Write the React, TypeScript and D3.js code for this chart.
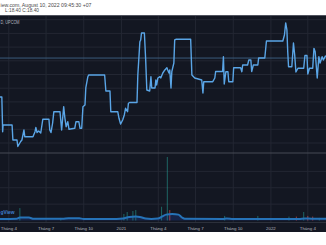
import React from "react";
import * as d3 from "d3";

const W = 326;
const H = 245;

const priceDates = [
  "2020-03-10","2020-03-15","2020-03-17","2020-03-18","2020-04-09","2020-04-11","2020-04-21","2020-04-23","2020-04-30","2020-05-03",
  "2020-05-08","2020-05-10","2020-05-30","2020-06-04","2020-06-06","2020-06-09","2020-06-13","2020-06-18","2020-06-23","2020-07-08",
  "2020-07-10","2020-07-13","2020-07-17","2020-07-20","2020-08-04","2020-08-08","2020-08-13","2020-08-16","2020-08-19","2020-08-23",
  "2020-08-26","2020-09-09","2020-09-12","2020-09-19","2020-09-22","2020-09-26","2020-09-29","2020-10-04","2020-10-06","2020-10-11",
  "2020-10-13","2020-11-21","2020-11-24","2020-12-04","2020-12-06","2020-12-23","2020-12-26","2020-12-30","2021-01-04","2021-01-08",
  "2021-01-11","2021-01-16","2021-01-18","2021-01-21","2021-02-08","2021-02-10","2021-02-15","2021-02-17","2021-02-19","2021-02-26",
  "2021-03-01","2021-03-04","2021-03-11","2021-03-14","2021-03-16","2021-03-24","2021-03-26","2021-03-28","2021-03-31","2021-04-05",
  "2021-04-07","2021-04-12","2021-04-17","2021-04-22","2021-04-24","2021-04-27","2021-04-29","2021-05-02","2021-05-04","2021-05-09",
  "2021-05-11","2021-05-14","2021-06-19","2021-06-22","2021-06-29","2021-07-16","2021-07-19","2021-07-21","2021-08-12","2021-08-17",
  "2021-08-19","2021-09-05","2021-09-07","2021-09-09","2021-09-13","2021-09-18","2021-09-20","2021-09-30","2021-10-02","2021-10-19",
  "2021-10-22","2021-10-24","2021-11-05","2021-11-08","2021-11-13","2021-11-15","2021-11-19","2021-11-30","2021-12-02","2021-12-17",
  "2021-12-21","2022-01-30","2022-02-03","2022-02-06","2022-02-09","2022-02-11","2022-02-13","2022-02-21","2022-02-25","2022-02-28",
  "2022-03-03","2022-03-08","2022-03-22","2022-03-25","2022-03-30","2022-04-01","2022-04-05","2022-04-13","2022-04-16","2022-04-19",
  "2022-04-24","2022-04-28","2022-05-01","2022-05-06","2022-05-09","2022-05-14","2022-05-19"
];
const priceValues = [
  12.72,12.72,7.65,8.63,8.63,6.44,6.44,5.49,6.22,6.44,
  7.90,6.92,6.92,7.65,8.26,7.53,7.75,7.46,9.46,9.46,
  7.90,7.53,8.92,10.57,10.57,7.90,11.30,9.61,8.38,9.11,
  8.00,8.15,9.11,9.11,8.15,8.15,11.30,11.55,14.03,15.68,
  15.93,15.93,13.59,13.59,10.57,10.57,9.61,8.77,9.36,10.09,
  11.07,10.57,11.80,11.91,11.91,15.93,20.79,21.04,22.06,22.06,
  18.41,13.74,13.59,15.68,14.03,14.03,15.20,14.47,15.49,15.68,
  15.49,16.22,16.66,16.99,16.66,16.22,16.66,14.03,16.41,17.68,
  21.04,21.14,21.14,15.93,15.49,15.20,13.30,14.95,14.95,15.49,
  16.44,16.44,18.60,14.61,16.41,16.41,14.95,14.95,16.99,16.99,
  16.41,17.39,17.39,18.12,18.12,16.44,17.39,17.39,18.41,18.41,
  20.89,20.89,21.77,23.52,22.50,19.33,17.14,17.14,20.60,18.85,
  16.36,16.91,16.91,18.77,18.77,16.07,16.91,16.91,19.82,19.33,
  15.49,18.60,17.68,18.60,18.12,18.70,18.55
];

const volumeDates = [
  "2020-04-28","2020-08-06","2021-01-07","2021-01-15","2021-01-29","2021-02-05","2021-04-09","2021-04-23","2021-04-29",
  "2021-09-10","2021-11-30","2022-02-14","2022-03-04","2022-03-22","2022-04-01","2022-04-13","2022-04-29"
];
const volumeValues = [19, 4, 10, 13, 14.5, 16, 21, 97, 16, 7, 7, 6, 6, 13, 7, 6, 4];
const volumeUp = [true, true, true, true, true, true, true, true, false, true, true, true, false, true, false, false, true];

const maDates = [
  "2020-03-01","2020-04-20","2020-04-28","2020-05-20","2020-06-01","2020-08-10","2020-08-25","2020-09-20","2020-10-01",
  "2020-12-20","2021-01-05","2021-01-20","2021-02-05","2021-02-15","2021-03-01","2021-03-15","2021-03-31","2021-04-10",
  "2021-04-20","2021-05-05","2021-05-20","2021-05-28","2021-06-05","2021-09-05","2021-09-15","2021-10-01","2022-03-10",
  "2022-03-25","2022-04-10","2022-05-25"
];
const maValues = [
  2.3, 2.5, 4.5, 4.5, 2.5, 2.5, 3.5, 3.5, 2.3,
  2.3, 3.0, 5.5, 6.0, 5.5, 3.0, 2.3, 3.0, 6.0,
  9.0, 10.0, 9.0, 5.0, 2.5, 2.3, 3.0, 2.3, 2.3,
  3.0, 2.8, 2.8
];

const tickDates = [
  "2020-04-01","2020-07-01","2020-10-01","2021-01-01","2021-04-01","2021-07-01","2021-10-01","2022-01-01","2022-04-01"
];
const tickLabels = ["Tháng 4","Tháng 7","Tháng 10","2021","Tháng 4","Tháng 7","Tháng 10","2022","Tháng 4"];

const lastClose = 18.4;
const headerLine1 = "iew.com, August 10, 2022 09:45:30 +07";
const headerLine2 = "L:18.40 C:18.40";
const symbolLabel = "D, UPCOM";
const watermark = "gView";

const FONT = "'Liberation Sans', Arial, sans-serif";

export default function App() {
  const parse = d3.utcParse("%Y-%m-%d");
  const x = d3
    .scaleUtc()
    .domain([parse("2020-04-01") as Date, parse("2022-04-01") as Date])
    .range([8.8, 307.8]);
  const y = d3.scaleLinear().domain([6, 24]).range([143, 19.7]);
  const yv = d3.scaleLinear().domain([0, 100]).range([220.5, 155]);

  const price = priceDates.map((d, i) => ({ t: parse(d) as Date, v: priceValues[i] }));
  const ma = maDates.map((d, i) => ({ t: parse(d) as Date, v: maValues[i] }));
  const vols = volumeDates.map((d, i) => ({ t: parse(d) as Date, v: volumeValues[i], up: volumeUp[i] }));
  const ticks = tickDates.map((d) => parse(d) as Date);

  const priceLine = d3
    .line<{ t: Date; v: number }>()
    .x((d) => x(d.t))
    .y((d) => y(d.v));
  const maLine = d3
    .line<{ t: Date; v: number }>()
    .x((d) => x(d.t))
    .y((d) => yv(d.v))
    .curve(d3.curveMonotoneX);
  const maArea = d3
    .area<{ t: Date; v: number }>()
    .x((d) => x(d.t))
    .y0(yv(0))
    .y1((d) => yv(d.v))
    .curve(d3.curveMonotoneX);

  const priceGrid = y.ticks(9);
  const volGrid = [25, 50, 75];

  const top = 15;
  const paneSep = 153;
  const axisTop = 222.5;
  const darkBottom = 232;

  return (
    <svg
      width={W}
      height={H}
      viewBox={`0 0 ${W} ${H}`}
      style={{ position: "absolute", left: 0, top: 0, display: "block" }}
      fontFamily={FONT}
    >
      <rect x={0} y={0} width={W} height={H} fill="#ffffff" />
      <rect x={0} y={top} width={W} height={darkBottom - top} fill="#131722" />
      <line x1={0} x2={W} y1={top + 0.5} y2={top + 0.5} stroke="#50535e" strokeWidth={1} />

      {/* header */}
      <text x={0.5} y={7} fontSize={4.6} fill="#4a4a4a" textLength={91} lengthAdjust="spacingAndGlyphs">
        {headerLine1}
      </text>
      <text x={5} y={12.3} fontSize={4.6} fill="#4a4a4a" textLength={34} lengthAdjust="spacingAndGlyphs">
        {headerLine2}
      </text>

      <defs>
        <clipPath id="plot">
          <rect x={0} y={top + 1} width={W} height={axisTop - top - 1} />
        </clipPath>
      </defs>

      {/* grid */}
      {priceGrid.map((g) => (
        <line key={"pg" + g} x1={0} x2={W} y1={y(g)} y2={y(g)} stroke="#232733" strokeWidth={1} />
      ))}
      {volGrid.map((g) => (
        <line key={"vg" + g} x1={0} x2={W} y1={yv(g)} y2={yv(g)} stroke="#232733" strokeWidth={1} />
      ))}
      {ticks.map((t, i) => (
        <line key={"vt" + i} x1={x(t)} x2={x(t)} y1={top + 1} y2={axisTop} stroke="#232733" strokeWidth={1} />
      ))}

      {/* pane separator & axis separator */}
      <line x1={0} x2={W} y1={paneSep} y2={paneSep} stroke="#474a54" strokeWidth={1} />
      <line x1={0} x2={W} y1={axisTop} y2={axisTop} stroke="#2c303b" strokeWidth={1} />

      <g clipPath="url(#plot)">
        {/* last price line */}
        <line x1={0} x2={W} y1={y(lastClose)} y2={y(lastClose)} stroke="#3b5b7d" strokeWidth={1} />

        {/* volume */}
        <path d={maArea(ma) || ""} fill="rgba(41,98,255,0.18)" />
        {vols.map((d, i) => (
          <rect
            key={"v" + i}
            x={x(d.t) - 0.5}
            y={yv(d.v)}
            width={1}
            height={yv(0) - yv(d.v)}
            fill={d.up ? "rgba(38,166,154,0.55)" : "rgba(239,83,80,0.6)"}
          />
        ))}
        <path d={maLine(ma) || ""} fill="none" stroke="#2673b8" strokeWidth={2} />

        {/* price */}
        <path d={priceLine(price) || ""} fill="none" stroke="#5aa5e6" strokeWidth={1.4} strokeLinejoin="round" />
      </g>

      <text x={0.5} y={23.8} fontSize={4.6} fill="#b2b5be" textLength={19} lengthAdjust="spacingAndGlyphs">
        {symbolLabel}
      </text>
      <text x={0.5} y={214} fontSize={5} fontWeight="bold" fill="#3f7fcf" textLength={14} lengthAdjust="spacingAndGlyphs">
        {watermark}
      </text>

      {/* time axis labels */}
      {ticks.map((t, i) => (
        <text key={"tl" + i} x={x(t)} y={229.8} textAnchor="middle" fontSize={4.4} fill="#b2b5be">
          {tickLabels[i]}
        </text>
      ))}
    </svg>
  );
}
